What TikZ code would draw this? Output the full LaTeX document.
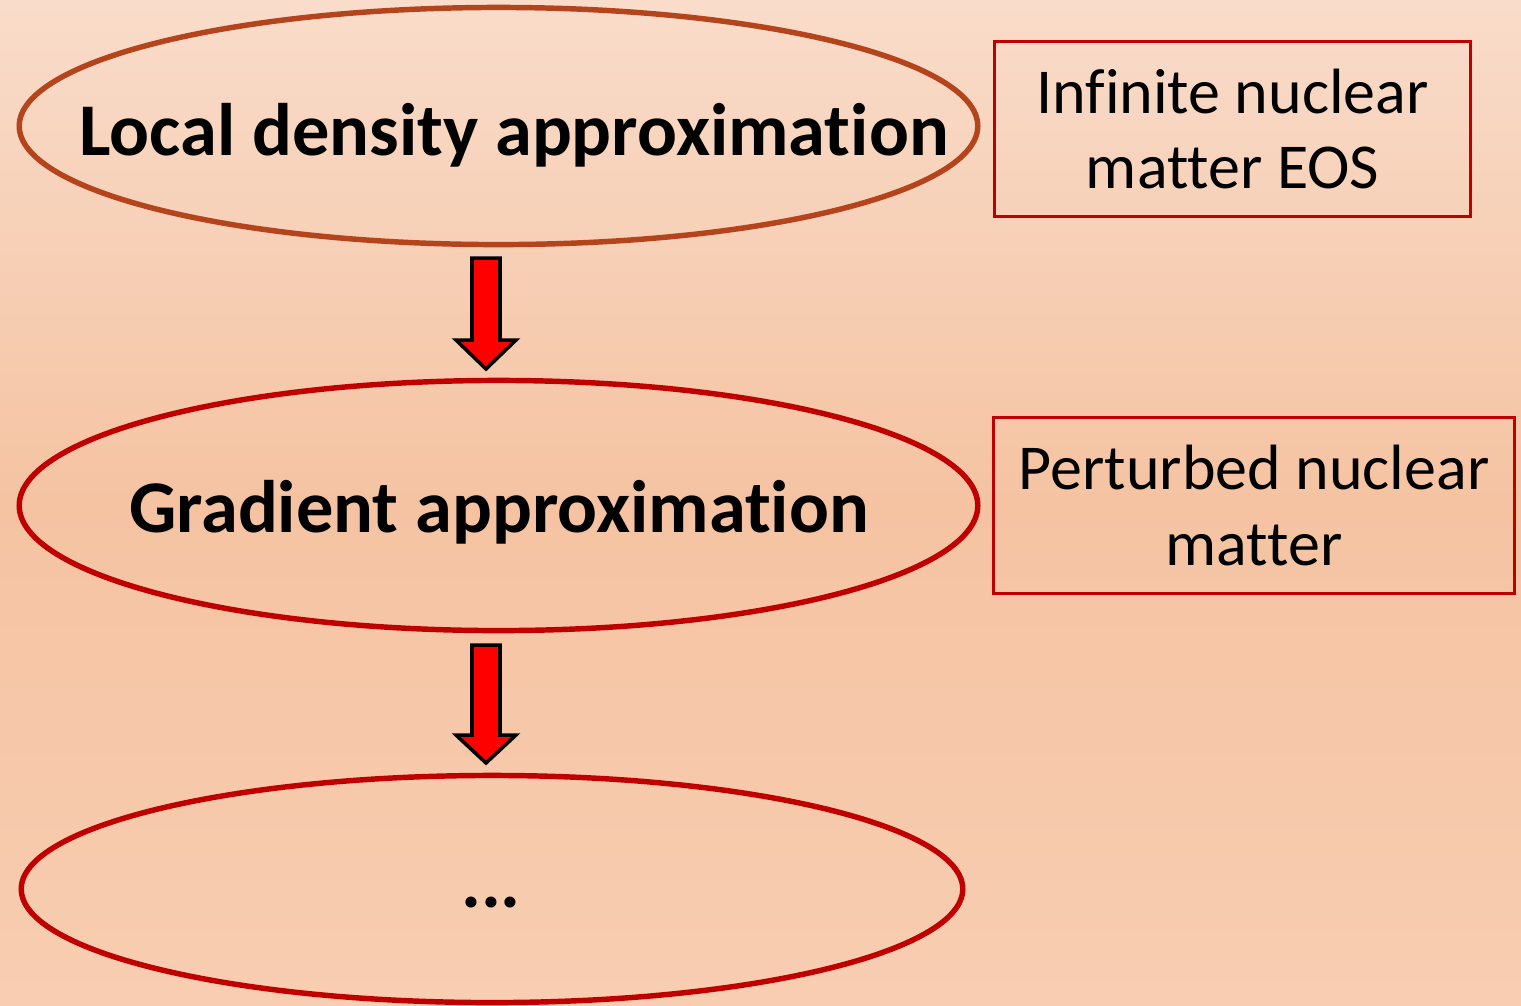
\documentclass[tikz,border=0pt]{standalone}
\usepackage{fontspec}
\setmainfont[RawFeature={-liga;-clig;-dlig}]{Carlito}
\usetikzlibrary{shapes.geometric}
\definecolor{bgtop}{HTML}{F9DCCA}
\definecolor{bgmid}{HTML}{F5C3A2}
\definecolor{bgbot}{HTML}{F8CDB1}
\definecolor{ellbrown}{HTML}{B4441C}
\definecolor{ellred}{HTML}{C00000}
\definecolor{arrred}{HTML}{FF0000}
\tikzset{
  ellbox/.style={ellipse, draw, line width=1.55pt, inner sep=0pt, outer sep=0pt},
  infobox/.style={rectangle, draw=ellred, line width=0.85pt, inner sep=0pt, align=center,
    font=\fontsize{18.2pt}{21.6pt}\selectfont},
  maintext/.style={anchor=base, inner sep=0pt, font=\fontsize{21.15pt}{26pt}\selectfont\bfseries},
  blockarrow/.style={draw=black, fill=arrred, line width=1pt, line join=miter}
}
\begin{document}
\begin{tikzpicture}[x=0.01cm, y=-0.01cm]
\shade[top color=bgtop, bottom color=bgbot, middle color=bgmid] (0,0) rectangle (1521,1005);
\useasboundingbox (0,0) rectangle (1521,1005);

\node[ellbox, draw=ellbrown, minimum width=9.58cm, minimum height=2.37cm] (e1) at (498.5,126) {};
\node[ellbox, draw=ellred, minimum width=9.58cm, minimum height=2.50cm] (e2) at (498.5,505.5) {};
\node[ellbox, draw=ellred, minimum width=9.41cm, minimum height=2.27cm] (e3) at (492,889) {};

\node[maintext] (t1) at (514,155) {Local density approximation};
\node[maintext] (t2) at (499,532) {Gradient approximation};
\node[maintext] (t3) at (491,907) {...};

\node[infobox, minimum width=4.75cm, minimum height=1.74cm] (b1) at (1232.5,129) {Infinite nuclear\\matter EOS};
\node[infobox, minimum width=5.20cm, minimum height=1.75cm] (b2) at (1254,505.5) {Perturbed nuclear\\matter};

% block arrows between ellipses
\coordinate (a1top) at (486,258);
\coordinate (a2top) at (486,645);
\draw[blockarrow] (a1top) ++(-14,0) -- ++(0,82) -- ++(-16,0) -- ++(30,29) -- ++(30,-29) -- ++(-16,0) -- ++(0,-82) -- cycle;
\draw[blockarrow] (a2top) ++(-14,0) -- ++(0,90) -- ++(-16,0) -- ++(30,28) -- ++(30,-28) -- ++(-16,0) -- ++(0,-90) -- cycle;
\end{tikzpicture}
\end{document}
